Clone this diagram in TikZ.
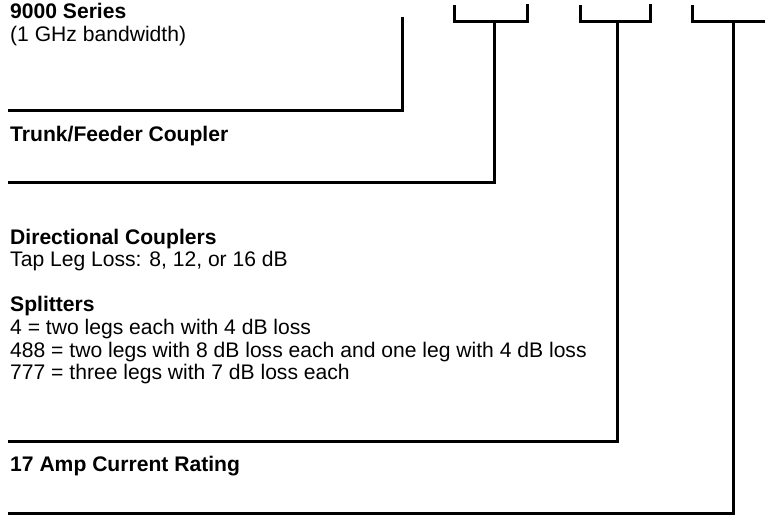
\documentclass[tikz,border=0pt]{standalone}
\usepackage{fontspec}
\setmainfont{Liberation Sans}
\usepackage{tikz}

\begin{document}
\begin{tikzpicture}[x=1pt,y=-1pt,
  every node/.style={anchor=base west,inner sep=0pt,font=\fontsize{21.1}{24}\selectfont},
  head/.style={font=\fontsize{21.1}{24}\selectfont\bfseries},
  rule/.style={line width=3pt,line join=miter}]
	\useasboundingbox (0,0) rectangle (765,516);
	% top marks
	\coordinate (sTop) at (402,17);
	\coordinate (aL) at (454,5);
	\coordinate (aR) at (527,4);
	\coordinate (aS) at (494,22);
	\coordinate (bL) at (580,5);
	\coordinate (bR) at (650,4);
	\coordinate (bS) at (617,22);
	\coordinate (cL) at (692,5);
	\coordinate (cR) at (765,22);
	\coordinate (cS) at (733,22);
	\draw[rule] (aL) -- (aL |- aS) -- (aR |- aS) -- (aR);
	\draw[rule] (bL) -- (bL |- bS) -- (bR |- bS) -- (bR);
	\draw[rule] (cL) -- (cL |- cS) -- (cR);
	% left ends of the rules
	\coordinate (sEnd) at (8,111);
	\coordinate (tEnd) at (8,182);
	\coordinate (dEnd) at (8,441);
	\coordinate (aEnd) at (8,513);
	\draw[rule] (sTop) -- (sTop |- sEnd) -- (sEnd);
	\draw[rule] (aS) -- (aS |- tEnd) -- (tEnd);
	\draw[rule] (bS) -- (bS |- dEnd) -- (dEnd);
	\draw[rule] (cS) -- (cS |- aEnd) -- (aEnd);
	% texts
	\node[head] (series) at (10,19) {9000 Series};
	\node (bw) at (10,42) {(1 GHz bandwidth)};
	\node[head] (trunk) at (10,141) {Trunk/Feeder Coupler};
	\node[head] (dc) at (10,244) {Directional Couplers};
	\node (tap) at (10,266) {Tap Leg Loss: 8, 12, or 16 dB};
	\node[head] (split) at (10,311) {Splitters};
	\node (sp4) at (10,334) {4 = two legs each with 4 dB loss};
	\node (sp488) at (10,357) {488 = two legs with 8 dB loss each and one leg with 4 dB loss};
	\node (sp777) at (10,379) {777 = three legs with 7 dB loss each};
	\node[head] (amp) at (10,471) {17 Amp Current Rating};
\end{tikzpicture}
\end{document}
